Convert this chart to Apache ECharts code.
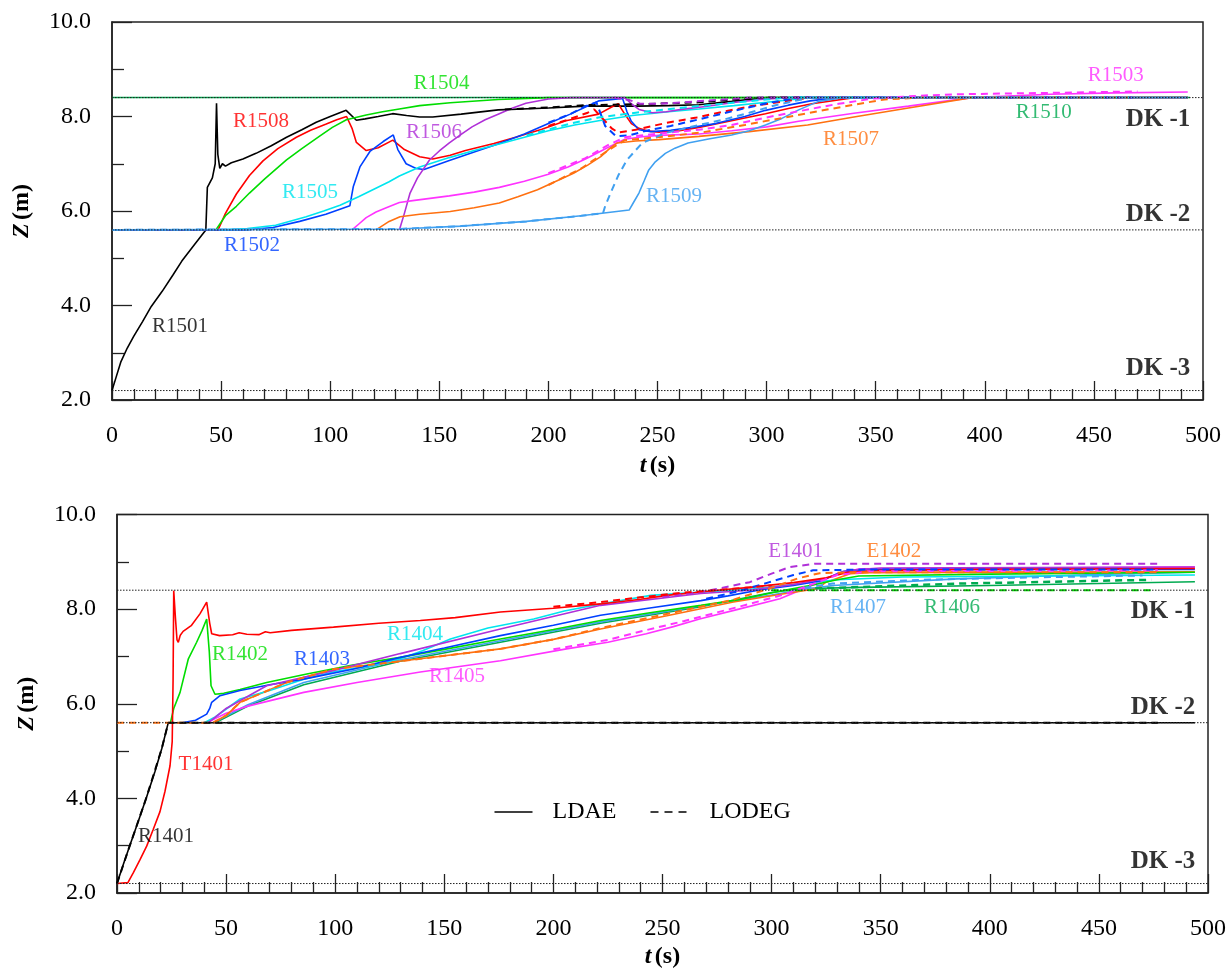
<!DOCTYPE html>
<html>
<head>
<meta charset="utf-8">
<script src="https://cdn.jsdelivr.net/npm/echarts@6/dist/echarts.min.js"></script>
<style>
  html, body { margin: 0; padding: 0; background: #fff; }
  #chart { width: 1229px; height: 970px; }
</style>
</head>
<body>
<div id="chart"></div>
<script>
// ---- data: [t (s), Z (m)] ----
// upper panel (R15xx), solid = LDAE, dashed = LODEG
var r1501 = [[0,2.2],[2,2.5],[4,2.8],[7,3.1],[10,3.35],[14,3.66],[18,3.98],[23,4.3],[28,4.65],[32,4.94],[38,5.3],[43,5.6],[43.7,6.5],[46,6.7],[47.3,7.0],[47.9,8.28],[48.5,7.2],[49.4,6.9],[50.6,7.0],[52,6.95],[54.7,7.02],[60,7.1],[66,7.22],[73,7.38],[80,7.56],[87,7.72],[93.6,7.88],[100,8.0],[107.3,8.13],[112,7.92],[116,7.95],[122,8.0],[128.6,8.06],[135,8.02],[141,7.99],[147,7.99],[160,8.05],[177,8.14],[200,8.18],[217,8.22],[241,8.22],[255,8.23],[269,8.25],[284,8.32],[300,8.4],[493,8.4]];
var r1501d = [[180,8.15],[200,8.19],[217,8.24],[241,8.26],[269,8.3],[290,8.38],[300,8.4],[470,8.4]];
var r1508 = [[0,5.6],[48.6,5.6],[52,5.95],[57,6.36],[63,6.75],[69.2,7.06],[76,7.32],[84.5,7.56],[91,7.71],[98.2,7.84],[103,7.93],[107.5,8.0],[110,7.75],[112,7.45],[116.5,7.28],[122,7.34],[128.7,7.5],[134,7.3],[141,7.15],[147,7.1],[155,7.18],[162,7.28],[175,7.43],[185,7.56],[197,7.73],[208,7.91],[223,8.05],[229,8.2],[232,8.27],[235,8.05],[238,7.85],[241.5,7.75],[246,7.69],[250.7,7.67],[260,7.7],[269,7.77],[285,7.92],[299.5,8.06],[310,8.17],[320.8,8.27],[340,8.4],[493,8.4]];
var r1508d = [[200,7.8],[210,7.95],[218,8.08],[221,8.15],[225,7.95],[229,7.75],[232,7.66],[240,7.72],[253.6,7.86],[268,7.98],[280,8.1],[293,8.22],[305,8.3],[320,8.4],[470,8.4]];
var r1504 = [[47.6,5.6],[52,5.9],[57,6.1],[63,6.38],[70,6.68],[80,7.08],[87,7.32],[95,7.58],[101,7.77],[107.4,7.93],[116.5,8.03],[124,8.1],[131.7,8.16],[141,8.23],[155,8.29],[177,8.36],[200,8.4],[493,8.4]];
var r1502 = [[0,5.6],[61.6,5.6],[73.8,5.65],[86,5.78],[98,5.93],[109,6.11],[110.6,6.52],[113.7,6.94],[118.2,7.26],[124.3,7.47],[128.9,7.61],[131,7.3],[134.8,7.0],[139.4,6.9],[143,6.88],[154.6,7.07],[166,7.25],[177.5,7.43],[189,7.63],[200,7.85],[210,8.05],[217,8.2],[223,8.33],[234,8.38],[236,8.1],[238,7.9],[241.5,7.72],[247,7.68],[256,7.71],[266,7.77],[276.6,7.85],[290,8.0],[299.5,8.13],[310,8.24],[320,8.33],[332,8.4],[493,8.4]];
var r1502d = [[200,7.87],[210,8.05],[217,8.22],[222,8.3],[226,7.8],[231,7.58],[237,7.6],[245,7.7],[256,7.8],[270,7.95],[285,8.12],[300,8.28],[315,8.4],[470,8.4]];
var r1505 = [[50,5.6],[62,5.63],[75,5.7],[89,5.88],[97,6.0],[104.5,6.12],[113,6.3],[120,6.46],[127,6.62],[131.7,6.74],[141,6.93],[154.6,7.13],[166,7.28],[177.5,7.42],[189,7.56],[200,7.7],[212,7.82],[223,7.91],[238.5,8.02],[255,8.1],[269,8.16],[285,8.23],[300,8.3],[320,8.4],[493,8.4]];
var r1505d = [[190,7.6],[210,7.85],[223,7.98],[240,8.08],[260,8.18],[280,8.27],[300,8.36],[310,8.4],[470,8.4]];
var r1506 = [[131.7,5.6],[134,5.95],[136.6,6.38],[140,6.7],[145.5,7.08],[150,7.27],[154.6,7.44],[160,7.62],[165,7.78],[171,7.93],[177.5,8.06],[183,8.17],[189.7,8.28],[200,8.37],[210,8.4],[235,8.4],[238,8.27],[241.5,8.15],[247.6,8.08],[254,8.1],[261,8.15],[272,8.21],[284,8.29],[297,8.36],[310,8.4],[493,8.4]];
var r1506d = [[230,8.4],[237,8.35],[242,8.27],[250,8.27],[262,8.3],[280,8.36],[292,8.4],[470,8.4]];
var r1503 = [[110,5.6],[113,5.72],[116.5,5.86],[121,5.98],[125.7,6.07],[131.7,6.18],[137.8,6.22],[154.6,6.32],[166,6.4],[177.5,6.5],[189,6.63],[200,6.78],[209,6.93],[217,7.1],[227.5,7.35],[235,7.52],[243,7.57],[250.7,7.6],[269,7.63],[284,7.7],[300,7.78],[314.7,7.9],[340,8.07],[365,8.22],[394,8.4],[430,8.47],[460,8.5],[493,8.52]];
var r1503d = [[200,6.8],[217,7.12],[227.5,7.4],[235,7.56],[250.7,7.64],[269,7.72],[284,7.82],[300,7.98],[318,8.14],[333,8.27],[349,8.38],[370,8.44],[386,8.47],[430,8.5],[470,8.53]];
var r1507 = [[121,5.6],[127,5.78],[132,5.88],[141,5.93],[155,5.99],[166,6.07],[177.5,6.17],[186,6.3],[195,6.45],[203,6.62],[211.5,6.8],[218,6.97],[224,7.15],[228,7.32],[231.5,7.44],[240,7.48],[250.7,7.51],[269,7.58],[292,7.68],[318.8,7.82],[340,7.99],[365,8.18],[394,8.4],[493,8.4]];
var r1507d = [[200,6.55],[215,6.9],[228,7.3],[235,7.5],[250,7.56],[270,7.66],[290,7.82],[318.8,8.07],[340,8.25],[354,8.36],[370,8.4],[470,8.4]];
var r1509 = [[0,5.6],[131.7,5.62],[160,5.68],[190,5.78],[215,5.9],[237,6.02],[239,6.18],[241.5,6.38],[244,6.65],[246,6.87],[249,7.04],[253.6,7.22],[258,7.33],[264,7.44],[274,7.53],[284,7.61],[292,7.7],[299.5,7.82],[307,7.96],[314.7,8.14],[323.8,8.32],[335,8.4],[493,8.4]];
var r1509d = [[0,5.6],[131.7,5.62],[160,5.68],[190,5.78],[215,5.9],[225,5.95],[226,6.1],[228.5,6.38],[232,6.75],[236,7.08],[243,7.44],[253.6,7.65],[269,7.82],[280,7.93],[292,8.08],[305,8.25],[320,8.4],[470,8.4]];
var r1510 = [[0,8.4],[494,8.4]];

// lower panel (R14xx, T1401, E14xx)
var r1401 = [[0,2.2],[3,2.62],[6,3.02],[10,3.55],[13.5,4.02],[17.4,4.57],[20.5,5.05],[23.5,5.6],[494,5.6]];
var r1401d = [[0,2.2],[6,3.02],[13.5,4.02],[20.5,5.05],[23.5,5.6],[477,5.6]];
var t1401 = [[0,2.2],[5,2.22],[7.5,2.43],[10.5,2.7],[13.6,2.99],[16.5,3.33],[19.7,3.72],[22,4.15],[24.3,4.69],[25.3,5.2],[25.7,6.5],[26,8.39],[26.8,7.8],[27.5,7.35],[28.1,7.3],[29,7.45],[30.3,7.53],[34,7.65],[38,7.9],[41.1,8.15],[42.5,7.7],[43.4,7.48],[47,7.44],[53,7.46],[56,7.5],[59.5,7.47],[65,7.46],[68,7.52],[70.2,7.5],[80,7.55],[99.2,7.62],[120,7.7],[139,7.76],[155,7.82],[175.7,7.94],[200,8.02],[221.6,8.11],[240,8.21],[252,8.29],[265,8.35],[275,8.4],[290,8.46],[310,8.56],[325,8.66],[335,8.78],[350,8.82],[400,8.84],[494,8.86]];
var t1401d = [[200,8.05],[221.6,8.15],[240,8.25],[260,8.35],[280,8.42],[300,8.5]];
var r1402 = [[24.5,5.6],[26,5.9],[28.9,6.24],[32.7,6.95],[36.5,7.3],[39,7.55],[41.1,7.79],[42.3,7.1],[43.1,6.38],[44.9,6.2],[48.9,6.22],[56.4,6.3],[68.6,6.45],[87,6.63],[108,6.82],[129.8,6.98],[150,7.15],[175.7,7.37],[200,7.57],[221.6,7.76],[245,7.93],[267.6,8.08],[285,8.2],[305.8,8.4],[320,8.52],[330,8.62],[340,8.7],[400,8.74],[494,8.78]];
var r1402d = [[300,8.4],[474,8.4]];
var r1403 = [[30,5.6],[36,5.65],[41.1,5.78],[42.5,5.9],[43.4,6.03],[47.2,6.17],[56.4,6.28],[70,6.4],[85.6,6.52],[108,6.73],[129.8,6.98],[150,7.18],[175.7,7.44],[200,7.66],[221.6,7.87],[245,8.03],[267.6,8.18],[280,8.28],[295,8.41],[310,8.5],[322.6,8.6],[333,8.8],[345,8.84],[494,8.84]];
var r1403d = [[270,8.22],[285,8.38],[299,8.57],[310,8.72],[319,8.82],[350,8.84],[477,8.84]];
var r1404 = [[40,5.6],[45,5.72],[56.4,6.1],[70,6.28],[85.6,6.52],[100,6.68],[116,6.8],[129.8,6.95],[140,7.12],[152.8,7.37],[170,7.6],[191,7.79],[205,7.96],[221.6,8.11],[244.6,8.29],[267.6,8.36],[290,8.42],[310,8.52],[330,8.62],[360,8.68],[494,8.72]];
var e1401 = [[42,5.6],[50,5.9],[68.6,6.38],[99,6.7],[129.8,7.06],[175.7,7.58],[221.6,8.08],[267.6,8.33],[290,8.4],[310,8.52],[325,8.65],[335,8.82],[350,8.87],[494,8.89]];
var e1401d = [[250,8.25],[270,8.38],[290,8.57],[300,8.75],[308.4,8.89],[320,8.96],[478,8.96]];
var e1402 = [[44,5.6],[50,5.75],[56.4,6.03],[77.8,6.45],[99,6.73],[139,6.95],[175.7,7.16],[200,7.36],[221.6,7.58],[252,7.86],[282.5,8.15],[305,8.32],[320.7,8.43],[325,8.57],[336,8.75],[345,8.77],[494,8.79]];
var e1402d = [[0,5.6],[44,5.6],[50,5.75],[56.4,6.03],[77.8,6.45],[99,6.73],[139,6.95],[175.7,7.16],[200,7.36],[221.6,7.6],[250,7.88],[282.5,8.2],[300,8.45],[312,8.65],[322,8.76],[340,8.78],[477,8.78]];
var r1405 = [[41,5.6],[50,5.8],[60,5.95],[85.6,6.24],[110,6.45],[139,6.67],[175.7,6.91],[206,7.16],[225,7.3],[242.6,7.48],[255,7.63],[267,7.79],[285,8.0],[303.8,8.22],[322,8.57],[330,8.75],[340,8.85],[494,8.89]];
var r1405d = [[200,7.15],[225,7.35],[242,7.55],[260,7.75],[285,8.05],[305,8.3],[320,8.55],[330,8.72],[345,8.8],[477,8.82]];
var r1406 = [[45,5.6],[60,5.95],[85.6,6.4],[129.8,6.9],[175.7,7.3],[221.6,7.7],[267.6,8.05],[300,8.35],[313,8.43],[340,8.46],[400,8.5],[494,8.58]];
var r1406d = [[320,8.44],[330,8.45],[386,8.54],[430,8.58],[474,8.62]];
var r1407 = [[44,5.6],[60,5.98],[85.6,6.45],[129.8,6.93],[175.7,7.33],[221.6,7.73],[267.6,8.07],[300,8.3],[315,8.42],[328,8.5],[385,8.64],[440,8.72],[494,8.78]];
var r1407d = [[315,8.45],[328,8.54],[369,8.62],[420,8.67],[470,8.71]];

// design levels
var dkLevels = [8.4, 5.6, 2.2];
var dkNames = ['DK -1', 'DK -2', 'DK -3'];
var xTicks = [0, 500, 50];   // min, max, interval
var yTicks = [2, 10, 2];

// ---- chart ----
var FONT = 'Liberation Serif';
var C = {
  black: '#000000', red: '#ff0000', green: '#00dd00', blue: '#0040ff',
  cyan: '#00e5ee', violet: '#b030d8', magenta: '#ff33ff', orange: '#ff7010',
  lblue: '#40a0f0', dgreen: '#00aa50'
};

var series = [];
function line(data, color, dashed, idx, width) {
  series.push({
    type: 'line', xAxisIndex: idx, yAxisIndex: idx, data: data,
    symbol: 'none', silent: true, animation: false, z: dashed ? 3 : 2,
    lineStyle: { color: color, width: width || (dashed ? 2 : 1.6), type: dashed ? [7, 5] : 'solid' }
  });
}

// upper panel
line(r1510, C.dgreen, false, 0, 1.5);
line(r1501, C.black, false, 0); line(r1501d, C.black, true, 0);
line(r1508, C.red, false, 0); line(r1508d, C.red, true, 0);
line(r1504, C.green, false, 0);
line(r1502, C.blue, false, 0); line(r1502d, C.blue, true, 0);
line(r1505, C.cyan, false, 0); line(r1505d, C.cyan, true, 0);
line(r1506, C.violet, false, 0); line(r1506d, C.violet, true, 0);
line(r1503, C.magenta, false, 0); line(r1503d, C.magenta, true, 0);
line(r1507, C.orange, false, 0); line(r1507d, C.orange, true, 0);
line(r1509, C.lblue, false, 0); line(r1509d, C.lblue, true, 0);

// lower panel
line(r1402d, C.green, true, 1);
line(r1406, C.dgreen, false, 1); line(r1406d, C.dgreen, true, 1, 2.5);
line(r1407, C.lblue, false, 1); line(r1407d, C.lblue, true, 1);
line(r1405, C.magenta, false, 1); line(r1405d, C.magenta, true, 1);
line(e1402, C.orange, false, 1); line(e1402d, C.orange, true, 1);
line(r1404, C.cyan, false, 1);
line(r1402, C.green, false, 1);
line(r1403, C.blue, false, 1); line(r1403d, C.blue, true, 1);
line(e1401, C.violet, false, 1); line(e1401d, C.violet, true, 1);
line(r1401, C.black, false, 1); line(r1401d, C.black, true, 1);
line(t1401, C.red, false, 1); line(t1401d, C.red, true, 1);

// DK reference lines (dotted) in both panels
[0, 1].forEach(function (idx) {
  dkLevels.forEach(function (lv) {
    series.push({
      type: 'line', xAxisIndex: idx, yAxisIndex: idx, symbol: 'none', silent: true,
      animation: false, z: 4, data: [[xTicks[0], lv], [xTicks[1], lv]],
      lineStyle: { color: '#222', width: 1, type: [1.5, 1.5] }
    });
  });
});

// curve labels: [text, t, Z, color, panel]
var labels = [
  ['R1504', 151, 8.69, C.green, 0], ['R1508', 68.3, 7.89, C.red, 0],
  ['R1506', 147.6, 7.66, C.violet, 0], ['R1505', 90.7, 6.39, C.cyan, 0],
  ['R1502', 64.2, 5.26, C.blue, 0], ['R1501', 31.2, 3.55, C.black, 0],
  ['R1509', 257.6, 6.3, C.lblue, 0], ['R1503', 460, 8.86, C.magenta, 0],
  ['R1510', 427, 8.08, C.dgreen, 0], ['R1507', 338.7, 7.51, C.orange, 0],
  ['E1401', 311, 9.21, C.violet, 1], ['E1402', 356, 9.21, C.orange, 1],
  ['R1407', 339.6, 8.04, C.lblue, 1], ['R1406', 382.7, 8.04, C.dgreen, 1],
  ['R1404', 136.6, 7.46, C.cyan, 1], ['R1402', 56.4, 7.05, C.green, 1],
  ['R1403', 94, 6.94, C.blue, 1], ['R1405', 155.8, 6.57, C.magenta, 1],
  ['T1401', 40.8, 4.72, C.red, 1], ['R1401', 22.5, 3.2, C.black, 1]
];
var dkLabelPos = [[479.4, 7.94], [479.4, 5.92], [479.4, 2.66]];

[0, 1].forEach(function (idx) {
  var items = labels.filter(function (l) { return l[4] === idx; }).map(function (l) {
    return { value: [l[1], l[2]], name: l[0],
      label: { color: l[3], fontSize: 21, fontFamily: FONT } };
  });
  dkNames.forEach(function (n, i) {
    items.push({ value: dkLabelPos[i], name: n,
      label: { color: '#000', fontSize: 25, fontWeight: 'bold', fontFamily: FONT } });
  });
  series.push({
    type: 'scatter', xAxisIndex: idx, yAxisIndex: idx, symbolSize: 0, silent: true,
    animation: false, z: 10, data: items,
    label: { show: true, position: 'inside', formatter: '{b}' }
  });
});

function xAxis(idx) {
  return {
    type: 'value', gridIndex: idx, min: xTicks[0], max: xTicks[1], interval: xTicks[2],
    name: '{i|t} {b|(s)}', nameLocation: 'middle', nameGap: idx === 0 ? 54 : 52,
    nameTextStyle: { rich: {
      i: { fontFamily: FONT, fontSize: 24, fontWeight: 'bold', fontStyle: 'italic', color: '#000' },
      b: { fontFamily: FONT, fontSize: 24, fontWeight: 'bold', color: '#000' } } },
    axisLine: { show: true, lineStyle: { color: '#222', width: 1.5 } },
    axisTick: { show: true, inside: true, length: 19, lineStyle: { color: '#222', width: 1.3 } },
    minorTick: { show: true, splitNumber: 5, length: 11, lineStyle: { color: '#222', width: 1.3 } },
    axisLabel: { color: '#000', fontFamily: FONT, fontSize: 24, margin: 24 },
    splitLine: { show: false }
  };
}
function yAxis(idx) {
  return {
    type: 'value', gridIndex: idx, min: yTicks[0], max: yTicks[1], interval: yTicks[2],
    name: '{i|Z} {b|(m)}', nameLocation: 'middle', nameGap: 78,
    nameTextStyle: { rich: {
      i: { fontFamily: FONT, fontSize: 24, fontWeight: 'bold', fontStyle: 'italic', color: '#000' },
      b: { fontFamily: FONT, fontSize: 24, fontWeight: 'bold', color: '#000' } } },
    axisLine: { show: true, lineStyle: { color: '#222', width: 1.5 } },
    axisTick: { show: true, inside: true, length: 20, lineStyle: { color: '#222', width: 1.3 } },
    minorTick: { show: true, splitNumber: 2, length: 12, lineStyle: { color: '#222', width: 1.3 } },
    axisLabel: { color: '#000', fontFamily: FONT, fontSize: 24, margin: 21,
      formatter: function (v) { return v.toFixed(1); } },
    splitLine: { show: false }
  };
}

// line-style key (solid = LDAE, dashed = LODEG)
var legendKey = {
  type: 'group', left: 492, top: 800,
  children: [
    { type: 'line', shape: { x1: 0, y1: 12, x2: 38, y2: 12 }, style: { stroke: '#000', lineWidth: 1.6 } },
    { type: 'text', left: 58, top: 0, style: { text: 'LDAE', fill: '#000', font: '24px "Liberation Serif"' } },
    { type: 'line', shape: { x1: 156, y1: 12, x2: 194, y2: 12 }, style: { stroke: '#000', lineWidth: 1.6, lineDash: [8, 6] } },
    { type: 'text', left: 215, top: 0, style: { text: 'LODEG', fill: '#000', font: '24px "Liberation Serif"' } }
  ]
};

var chart = echarts.init(document.getElementById('chart'), null, { renderer: 'canvas' });
chart.setOption({
  backgroundColor: '#fff',
  animation: false,
  grid: [
    { left: 112, top: 22, width: 1091, height: 378, show: true, borderColor: '#222', borderWidth: 1.5, backgroundColor: 'transparent' },
    { left: 117, top: 514.5, width: 1091, height: 379, show: true, borderColor: '#222', borderWidth: 1.5, backgroundColor: 'transparent' }
  ],
  xAxis: [xAxis(0), xAxis(1)],
  yAxis: [yAxis(0), yAxis(1)],
  graphic: [legendKey],
  series: series
});
</script>
</body>
</html>
